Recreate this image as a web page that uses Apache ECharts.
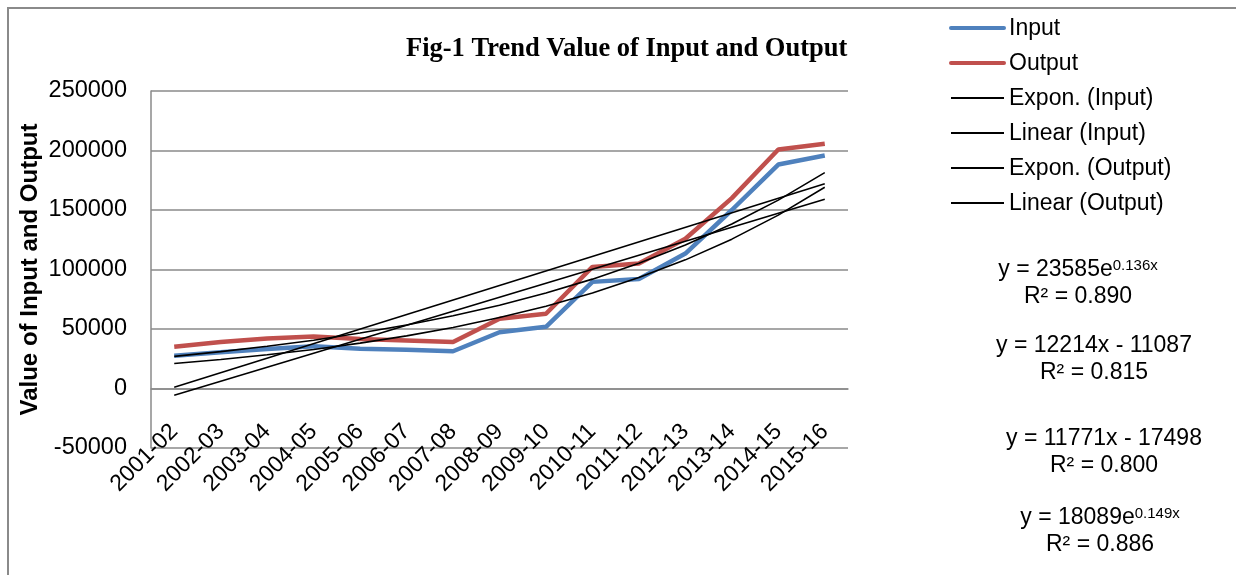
<!DOCTYPE html>
<html lang="en">
<head>
    <meta charset="UTF-8">
    <title>Fig-1 Trend Value of Input and Output</title>
    <script src="https://cdn.jsdelivr.net/npm/echarts@6/dist/echarts.min.js"></script>
    <style>
        html, body { margin: 0; padding: 0; background: #fff; }
        #main { width: 1236px; height: 575px; }
    </style>
</head>
<body>
<div id="main"></div>
<script>
    // years on the x axis
    var years = ['2001-02', '2002-03', '2003-04', '2004-05', '2005-06', '2006-07', '2007-08', '2008-09',
        '2009-10', '2010-11', '2011-12', '2012-13', '2013-14', '2014-15', '2015-16'];

    // values
    var inputValues = [27500, 30500, 33200, 35500, 33500, 32500, 31300, 47300, 51800, 89600, 92100, 113400, 150000, 188200, 195800];
    var outputValues = [35000, 39000, 42000, 43600, 41600, 40300, 39000, 58600, 62800, 102200, 105000, 125800, 160000, 200800, 205600];

    // trend lines as they appear in the picture
    var exponInput = [21000, 24400, 28300, 32800, 38100, 44200, 51300, 59600, 69200, 80300, 93200, 108100, 125500, 145700, 169100];
    var exponOutput = [27000, 31000, 35500, 40600, 46600, 53300, 61100, 70000, 80200, 91900, 105300, 120600, 138200, 158300, 181400];
    // linear trends: only the two end points, joined straight
    var linearInput = [-5700, null, null, null, null, null, null, null, null, null, null, null, null, null, 159100];
    var linearOutput = [1100, null, null, null, null, null, null, null, null, null, null, null, null, null, 172100];

    var yTicks = { min: -50000, max: 250000, step: 50000 };

    // equation labels shown at the right
    var equations = [
        { a: 'y = 23585e', sup: '0.136x', r2: 'R² = 0.890', x: 1078, y: 270 },
        { a: 'y = 12214x - 11087', sup: '', r2: 'R² = 0.815', x: 1094, y: 346 },
        { a: 'y = 11771x - 17498', sup: '', r2: 'R² = 0.800', x: 1104, y: 439 },
        { a: 'y = 18089e', sup: '0.149x', r2: 'R² = 0.886', x: 1100, y: 518 }
    ];

    var font = 'Liberation Sans, Arial, sans-serif';
    var gridColor = '#8a8a8a';

    var myChart = echarts.init(document.getElementById('main'));

    function plain(name, data, color, width, z) {
        return {
            name: name,
            type: 'line',
            data: data,
            symbol: 'none',
            connectNulls: true,
            lineStyle: { color: color, width: width },
            itemStyle: { color: color },
            silent: true,
            z: z
        };
    }

    var series = [
        plain('Input', inputValues, '#4f81bd', 4.5, 2),
        plain('Output', outputValues, '#c0504d', 4.5, 3),
        plain('Expon. (Input)', exponInput, '#000', 1.6, 4),
        plain('Linear (Input)', linearInput, '#000', 1.6, 4),
        plain('Expon. (Output)', exponOutput, '#000', 1.6, 4),
        plain('Linear (Output)', linearOutput, '#000', 1.6, 4)
    ];

    var graphics = [
        // outer frame of the chart area
        {
            type: 'rect',
            shape: { x: 8, y: 8, width: 1300, height: 600 },
            style: { fill: 'none', stroke: gridColor, lineWidth: 2 },
            silent: true
        }
    ];

    // legend drawn by hand so the keys look like plain line samples
    series.forEach(function (s, i) {
        var cy = 28 + i * 35;
        var thick = s.lineStyle.width > 2;
        graphics.push({
            type: 'line',
            shape: { x1: 951, y1: cy, x2: 1004, y2: cy },
            style: { stroke: s.lineStyle.color, lineWidth: thick ? 4 : 1.8, lineCap: thick ? 'round' : 'butt' },
            silent: true
        });
        graphics.push({
            type: 'text',
            x: 1009, y: cy + 1,
            style: { text: s.name, font: '23px ' + font, fill: '#000', verticalAlign: 'middle' },
            silent: true
        });
    });

    equations.forEach(function (eq) {
        var txt = eq.sup ? '{m|' + eq.a + '}{s|' + eq.sup + '}' : '{m|' + eq.a + '}';
        graphics.push({
            type: 'text',
            x: eq.x, y: eq.y,
            style: {
                text: txt,
                align: 'center',
                verticalAlign: 'middle',
                rich: {
                    m: { fontSize: 23, fontFamily: font, fill: '#000', verticalAlign: 'bottom' },
                    s: { fontSize: 15, fontFamily: font, fill: '#000', verticalAlign: 'top' }
                }
            }
        });
        graphics.push({
            type: 'text',
            x: eq.x, y: eq.y + 27,
            style: {
                text: eq.r2,
                align: 'center',
                verticalAlign: 'middle',
                font: '23px ' + font,
                fill: '#000'
            }
        });
    });

    var option = {
        animation: false,
        backgroundColor: '#fff',
        title: {
            text: 'Fig-1 Trend Value of Input and Output',
            left: 401,
            top: 31,
            textStyle: {
                fontFamily: 'Liberation Serif, Times New Roman, serif',
                fontWeight: 'bold',
                fontSize: 26.5,
                color: '#000'
            }
        },
        grid: {
            left: 151,
            right: 388,
            top: 91,
            bottom: 127
        },
        xAxis: {
            type: 'category',
            data: years,
            boundaryGap: true,
            axisLine: { lineStyle: { color: gridColor, width: 1.5 } },
            axisTick: { show: false },
            axisLabel: {
                interval: 0,
                rotate: 45,
                margin: -20,
                fontSize: 23,
                fontFamily: font,
                color: '#000'
            }
        },
        yAxis: {
            type: 'value',
            min: yTicks.min,
            max: yTicks.max,
            interval: yTicks.step,
            name: 'Value of Input and Output',
            nameLocation: 'middle',
            nameGap: 109,
            nameMoveOverlap: false,
            nameTextStyle: { fontSize: 24, fontWeight: 'bold', fontFamily: font, color: '#000' },
            axisLine: { show: true, lineStyle: { color: gridColor, width: 1.5 } },
            axisTick: { show: false },
            splitLine: { lineStyle: { color: gridColor, width: 1.5 } },
            axisLabel: {
                margin: 24,
                fontSize: 23.5,
                fontFamily: font,
                color: '#000',
                formatter: function (v) { return String(v); }
            }
        },
        graphic: graphics,
        series: series
    };

    myChart.setOption(option);
</script>
</body>
</html>
